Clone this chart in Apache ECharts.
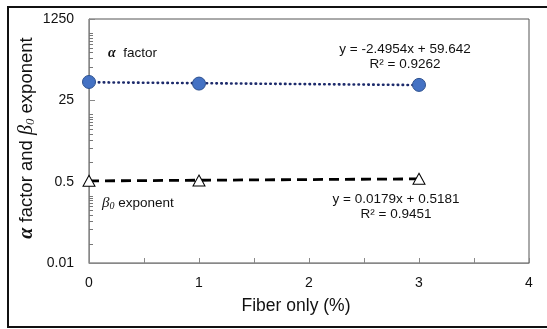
<!DOCTYPE html>
<html>
<head>
<meta charset="utf-8">
<script src="https://cdn.jsdelivr.net/npm/echarts@6/dist/echarts.min.js"></script>
<style>
  html, body { margin: 0; padding: 0; background: #fff; }
  #chart { width: 547px; height: 329px; }
</style>
</head>
<body>
<div id="chart"></div>
<script>
// Fiber content (%) of each mix
const fiberPct = [0, 1, 3];
// alpha factor and beta0 exponent measured at each fiber content
const alphaFactor = [60.46, 55.93, 52.56];
const beta0Exponent = [0.5231, 0.5285, 0.5743];
// Linear trend-line coefficients [slope, intercept] and R²
const alphaTrend = [-2.4954, 59.642];
const betaTrend = [0.0179, 0.5181];
const alphaR2 = 0.9262;
const betaR2 = 0.9451;
// Axis ticks
const yTickValues = [0.01, 0.5, 25, 1250];
const yMinorSteps = [2.5, 5, 7.5, 10, 12.5, 15, 17.5, 20, 22.5, 25];
const xTickMax = 4;

const trendRange = [fiberPct[0], fiberPct[fiberPct.length - 1]];
const trendLine = (c) => trendRange.map(x => [x, c[0] * x + c[1]]);

const yMinorValues = [];
yTickValues.slice(0, -1).forEach(m => yMinorSteps.forEach(s => yMinorValues.push(m * s)));

const fmtNum = (v) => String(+(+v).toPrecision(6));
const eqText = (c) => 'y = ' + c[0] + 'x + ' + c[1];

const font = 'Arial, "Liberation Sans", Helvetica, sans-serif';
const serif = '"Times New Roman", "Liberation Serif", "DejaVu Serif", serif';

const chart = echarts.init(document.getElementById('chart'), null, { renderer: 'canvas' });

const yBase = {
  type: 'log',
  logBase: 50,
  min: yTickValues[0],
  max: yTickValues[yTickValues.length - 1],
  position: 'left',
  splitLine: { show: false }
};

chart.setOption({
  animation: false,
  backgroundColor: '#fff',
  grid: {
    left: 89, top: 19, right: 18, bottom: 66,
    show: true, borderColor: '#555', borderWidth: 1
  },
  xAxis: {
    type: 'value',
    min: 0, max: xTickMax, interval: 1,
    axisLine: { lineStyle: { color: '#888', width: 1 } },
    axisTick: { inside: true, length: 5, lineStyle: { color: '#888' } },
    minorTick: { show: true, splitNumber: 2, length: 5, lineStyle: { color: '#888' } },
    splitLine: { show: false },
    axisLabel: { color: '#111', fontSize: 14, fontFamily: font, margin: 13 }
  },
  yAxis: [
    Object.assign({}, yBase, {
      axisLine: { show: true, lineStyle: { color: '#888', width: 1 } },
      axisTick: { show: true, inside: true, length: 6, customValues: yTickValues, lineStyle: { color: '#888' } },
      axisLabel: {
        show: true, customValues: yTickValues, color: '#111', fontSize: 14,
        fontFamily: font, margin: 15, formatter: fmtNum
      }
    }),
    Object.assign({}, yBase, {
      axisLine: { show: false },
      axisTick: { show: true, inside: true, length: 4, customValues: yMinorValues, lineStyle: { color: '#777' } },
      axisLabel: { show: false }
    })
  ],
  series: [
    {
      name: 'alpha trend',
      type: 'line',
      data: trendLine(alphaTrend),
      showSymbol: false,
      symbol: 'none',
      lineStyle: { color: '#1c2a6b', width: 2.6, type: [0.5, 4.4], cap: 'round' },
      z: 2
    },
    {
      name: 'beta trend',
      type: 'line',
      data: trendLine(betaTrend),
      showSymbol: false,
      symbol: 'none',
      lineStyle: { color: '#000', width: 2.8, type: [10, 6] },
      z: 2
    },
    {
      name: 'α factor',
      type: 'scatter',
      data: fiberPct.map((x, i) => [x, alphaFactor[i]]),
      symbol: 'circle',
      symbolSize: 13,
      itemStyle: { color: '#4472c4', borderColor: '#2f528f', borderWidth: 1, opacity: 1 },
      z: 5
    },
    {
      name: 'β0 exponent',
      type: 'scatter',
      data: fiberPct.map((x, i) => [x, beta0Exponent[i]]),
      symbol: 'triangle',
      symbolSize: [12, 11],
      itemStyle: { color: '#fff', borderColor: '#000', borderWidth: 1, opacity: 1 },
      z: 5
    }
  ],
  graphic: [
    {
      type: 'rect', silent: true, z: 100,
      shape: { x: 8, y: 7, width: 600, height: 320 },
      style: { fill: 'none', stroke: '#111', lineWidth: 2 }
    },
    {
      type: 'text', z: 50, x: 27, y: 138, rotation: Math.PI / 2,
      style: {
        text: '{a|α} factor and {b|β}{s|0} exponent',
        font: '18.5px ' + font, fill: '#111', align: 'center', verticalAlign: 'middle',
        rich: {
          a: { fontFamily: serif, fontWeight: 'bold', fontStyle: 'italic', fontSize: 20, fill: '#111' },
          b: { fontFamily: serif, fontStyle: 'italic', fontSize: 20, fill: '#111' },
          s: { fontFamily: serif, fontStyle: 'italic', fontSize: 13, fill: '#111', padding: [8, 0, 0, 0] }
        }
      }
    },
    {
      type: 'text', z: 50, x: 296, y: 306,
      style: { text: 'Fiber only (%)', font: '17.5px ' + font, fill: '#111', align: 'center', verticalAlign: 'middle' }
    },
    {
      type: 'text', z: 50, x: 108, y: 53,
      style: {
        text: '{a|α}  factor', font: '13.5px ' + font, fill: '#111', align: 'left', verticalAlign: 'middle',
        rich: { a: { fontFamily: serif, fontWeight: 'bold', fontStyle: 'italic', fontSize: 14, fill: '#111' } }
      }
    },
    {
      type: 'text', z: 50, x: 102, y: 203,
      style: {
        text: '{b|β}{s|0} exponent', font: '13.5px ' + font, fill: '#111', align: 'left', verticalAlign: 'middle',
        rich: {
          b: { fontFamily: serif, fontStyle: 'italic', fontSize: 15, fill: '#111' },
          s: { fontFamily: serif, fontStyle: 'italic', fontSize: 10, fill: '#111', padding: [6, 0, 0, 0] }
        }
      }
    },
    {
      type: 'text', z: 50, x: 405, y: 49,
      style: { text: eqText(alphaTrend), font: '13.5px ' + font, fill: '#111', align: 'center', verticalAlign: 'middle' }
    },
    {
      type: 'text', z: 50, x: 405, y: 64,
      style: { text: 'R² = ' + alphaR2, font: '13.5px ' + font, fill: '#111', align: 'center', verticalAlign: 'middle' }
    },
    {
      type: 'text', z: 50, x: 396, y: 199,
      style: { text: eqText(betaTrend), font: '13.5px ' + font, fill: '#111', align: 'center', verticalAlign: 'middle' }
    },
    {
      type: 'text', z: 50, x: 396, y: 214,
      style: { text: 'R² = ' + betaR2, font: '13.5px ' + font, fill: '#111', align: 'center', verticalAlign: 'middle' }
    }
  ]
});
</script>
</body>
</html>
